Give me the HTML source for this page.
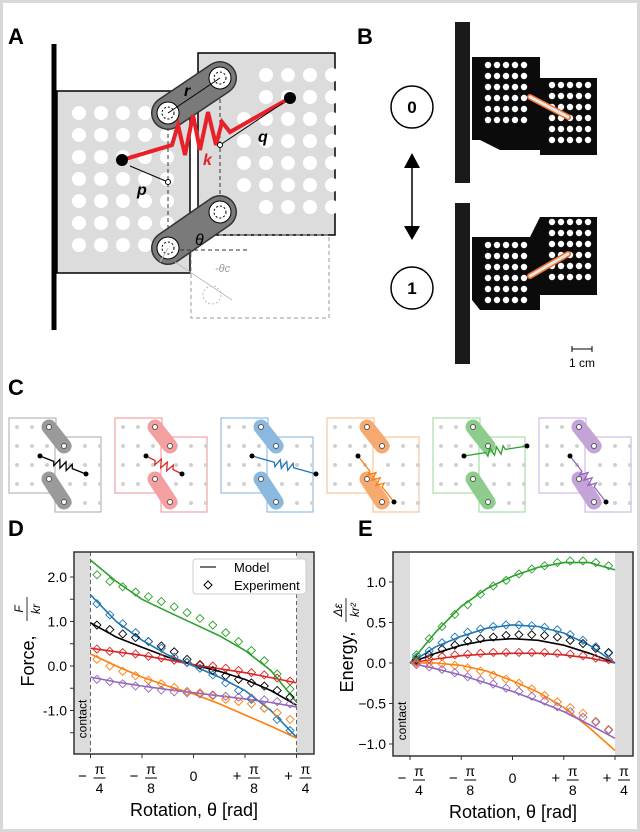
<!DOCTYPE html>
<html><head><meta charset="utf-8">
<style>
html,body{margin:0;padding:0;background:#fff;}
svg{display:block;font-family:"Liberation Sans","DejaVu Sans",sans-serif;}
</style></head>
<body>
<svg id="fig" width="640" height="832" viewBox="0 0 640 832">
  <rect x="1.5" y="1.5" width="637" height="829" fill="#fff" stroke="#d8d8d8" stroke-width="3"/>

  <!-- Panel A -->
  <g>
    <text x="8" y="44" font-size="22" font-weight="bold">A</text>
    <rect x="57" y="91" width="133" height="182" fill="#dcdcdc" stroke="#000" stroke-width="1.5"/>
    <rect x="198" y="53" width="137" height="182" fill="#dcdcdc" stroke="#000" stroke-width="1.5"/>
    <g id="holesA" fill="#fff"></g>
    <rect x="191" y="235" width="138" height="83" fill="none" stroke="#999" stroke-dasharray="4,3"/>
    <line x1="54" y1="44" x2="54" y2="330" stroke="#000" stroke-width="5"/>
    <line x1="168" y1="113" x2="168" y2="250" stroke="#333" stroke-dasharray="4,3"/>
    <line x1="220" y1="78" x2="220" y2="212" stroke="#333" stroke-dasharray="4,3"/>
    <line x1="168" y1="113" x2="220" y2="78" stroke="#333" stroke-width="34" stroke-linecap="round"/>
    <line x1="168" y1="113" x2="220" y2="78" stroke="#7a7a7a" stroke-width="31" stroke-linecap="round"/>
    <line x1="168" y1="248" x2="220" y2="212" stroke="#333" stroke-width="34" stroke-linecap="round"/>
    <line x1="168" y1="248" x2="220" y2="212" stroke="#7a7a7a" stroke-width="31" stroke-linecap="round"/>
    <g fill="#fff" stroke="#000" stroke-width="1">
      <circle cx="168" cy="113" r="11"/><circle cx="168" cy="113" r="6" fill="none" stroke-dasharray="2,2"/>
      <circle cx="220" cy="78" r="11"/><circle cx="220" cy="78" r="6" fill="none" stroke-dasharray="2,2"/>
      <circle cx="168" cy="248" r="11"/><circle cx="168" cy="248" r="6" fill="none" stroke-dasharray="2,2"/>
      <circle cx="220" cy="212" r="11"/><circle cx="220" cy="212" r="6" fill="none" stroke-dasharray="2,2"/>
    </g>
    <line x1="168" y1="113" x2="220" y2="78" stroke="#000"/>
    <line x1="180" y1="250" x2="248" y2="250" stroke="#333" stroke-dasharray="4,3"/>
    <path d="M168,248 L160,262 M175,262 L232,300" stroke="#bbb" fill="none"/>
    <circle cx="212" cy="295" r="9" fill="none" stroke="#bbb" stroke-dasharray="2,2"/>
    <polyline points="122,160 172,145 178,125 185,155 193,115 200,150 208,112 216,145 222,122 230,132 290,98" fill="none" stroke="#e8202a" stroke-width="4"/>
    <circle cx="122" cy="160" r="6" fill="#000"/>
    <circle cx="290" cy="98" r="6" fill="#000"/>
    <line x1="168" y1="182" x2="130" y2="166" stroke="#000"/>
    <line x1="220" y1="145" x2="283" y2="103" stroke="#000"/>
    <circle cx="168" cy="182" r="2.5" fill="#fff" stroke="#000"/>
    <circle cx="220" cy="145" r="2.5" fill="#fff" stroke="#000"/>
    <g font-weight="bold" font-style="italic" font-size="16">
      <text x="184" y="96">r</text>
      <text x="258" y="142">q</text>
      <text x="137" y="195">p</text>
      <text x="203" y="165" fill="#e8202a">k</text>
      <text x="195" y="245" font-weight="normal">θ</text>
    </g>
    <text x="215" y="272" font-size="11" font-style="italic" fill="#999">-θc</text>
  </g>

  <!-- Panel B -->
  <g>
    <text x="357" y="44" font-size="22" font-weight="bold">B</text>
    <g id="photo0">
      <rect x="455" y="22" width="15" height="161" fill="#1a1a1a"/>
      <path d="M472,57 L540,57 L540,78 L597,78 L597,155 L540,155 L540,150 L500,150 L480,140 L472,140 Z" fill="#0b0b0b"/>
    </g>
    <g id="photo1">
      <rect x="455" y="203" width="15" height="161" fill="#1a1a1a"/>
      <path d="M472,237 L530,237 L540,217 L597,217 L597,295 L540,295 L540,310 L480,310 L472,300 Z" fill="#0b0b0b"/>
    </g>
    <g id="holesB" fill="#fff"></g>
    <line x1="530" y1="97" x2="568" y2="117" stroke="#f07030" stroke-width="6" stroke-linecap="round"/>
    <line x1="530" y1="97" x2="568" y2="117" stroke="#e6e6e6" stroke-width="3" stroke-linecap="round"/>
    <line x1="530" y1="276" x2="568" y2="254" stroke="#f07030" stroke-width="6" stroke-linecap="round"/>
    <line x1="530" y1="276" x2="568" y2="254" stroke="#e6e6e6" stroke-width="3" stroke-linecap="round"/>
    <circle cx="412" cy="107" r="21" fill="#fff" stroke="#000" stroke-width="1.5"/>
    <text x="412" y="113" font-size="17" font-weight="bold" text-anchor="middle">0</text>
    <circle cx="412" cy="288" r="21" fill="#fff" stroke="#000" stroke-width="1.5"/>
    <text x="412" y="294" font-size="17" font-weight="bold" text-anchor="middle">1</text>
    <line x1="412" y1="165" x2="412" y2="228" stroke="#000" stroke-width="1.5"/>
    <path d="M404,168 L412,153 L420,168 Z M404,226 L412,240 L420,226 Z" fill="#000"/>
    <path d="M572,349 L592,349 M572,346 L572,352 M592,346 L592,352" stroke="#000"/>
    <text x="582" y="367" font-size="12" text-anchor="middle">1 cm</text>
  </g>

  <!-- Panel C -->
  <g>
    <text x="8" y="395" font-size="22" font-weight="bold">C</text>
    <g id="cgroup"></g>
  </g>

  <!-- Panel D -->
  <g id="panelD">
    <text x="8" y="536" font-size="22" font-weight="bold">D</text>
  </g>
  <!-- Panel E -->
  <g id="panelE">
    <text x="358" y="536" font-size="22" font-weight="bold">E</text>
  </g>
</svg>
<script>
// ---- chart data ----
const seriesColors = ["#000000","#d62728","#1f77b4","#ff7f0e","#2ca02c","#9467bd"];
const seriesNames = ["black","red","blue","orange","green","purple"];
// model sample rotations (fraction of pi/4)
const modelTheta = [-1,-0.75,-0.5,-0.25,0,0.25,0.5,0.75,1];
const expTheta = [-0.9375,-0.8125,-0.6875,-0.5625,-0.4375,-0.3125,-0.1875,-0.0625,0.0625,0.1875,0.3125,0.4375,0.5625,0.6875,0.8125,0.9375];
// Force model
const forceBlack = [0.97,0.65,0.42,0.2,0.03,-0.12,-0.3,-0.55,-0.88];
const forceRed = [0.4,0.32,0.24,0.14,0.03,-0.06,-0.15,-0.26,-0.38];
const forceBlue = [1.6,1.0,0.58,0.25,0,-0.25,-0.55,-1.0,-1.6];
const forceOrange = [0.27,0.0,-0.25,-0.45,-0.63,-0.85,-1.1,-1.35,-1.62];
const forceGreen = [2.38,1.9,1.5,1.22,0.95,0.68,0.35,-0.1,-0.81];
const forcePurple = [-0.25,-0.36,-0.45,-0.53,-0.6,-0.67,-0.74,-0.82,-0.92];
// Force experiment
const forceExpBlack = [0.92,0.82,0.72,0.64,0.55,0.45,0.32,0.15,0.02,-0.1,-0.22,-0.3,-0.38,-0.45,-0.55,-0.7];
const forceExpRed = [0.38,0.33,0.3,0.27,0.22,0.18,0.13,0.08,0.04,0.0,-0.05,-0.1,-0.15,-0.2,-0.27,-0.34];
const forceExpBlue = [1.4,1.15,0.95,0.75,0.55,0.4,0.2,0.08,-0.05,-0.2,-0.38,-0.55,-0.75,-0.95,-1.2,-1.45];
const forceExpOrange = [0.15,0.0,-0.12,-0.22,-0.32,-0.4,-0.48,-0.57,-0.6,-0.67,-0.75,-0.8,-0.85,-0.95,-1.05,-1.2];
const forceExpGreen = [2.05,1.9,1.78,1.66,1.56,1.45,1.33,1.2,1.07,0.92,0.75,0.55,0.35,0.12,-0.18,-0.52];
const forceExpPurple = [-0.3,-0.35,-0.4,-0.45,-0.5,-0.54,-0.58,-0.6,-0.63,-0.65,-0.68,-0.7,-0.72,-0.76,-0.8,-0.85];
// Energy model
const energyBlack = [0,0.12,0.22,0.28,0.3,0.28,0.22,0.12,0];
const energyRed = [0,0.05,0.09,0.11,0.12,0.12,0.1,0.06,0];
const energyBlue = [0,0.2,0.33,0.43,0.47,0.45,0.37,0.22,0];
const energyOrange = [0,0,-0.03,-0.1,-0.22,-0.36,-0.55,-0.8,-1.08];
const energyGreen = [0,0.38,0.7,0.92,1.07,1.18,1.24,1.24,1.15];
const energyPurple = [0,-0.07,-0.15,-0.25,-0.35,-0.47,-0.6,-0.76,-0.93];
// Energy experiment
const energyExpBlack = [0.04,0.1,0.17,0.22,0.27,0.3,0.32,0.34,0.35,0.35,0.34,0.32,0.28,0.24,0.18,0.13];
const energyExpRed = [0.02,0.05,0.08,0.1,0.11,0.12,0.13,0.13,0.13,0.13,0.13,0.12,0.11,0.09,0.06,0.04];
const energyExpBlue = [0.07,0.15,0.25,0.32,0.38,0.42,0.45,0.47,0.47,0.46,0.44,0.41,0.35,0.28,0.2,0.12];
const energyExpOrange = [0.0,0.0,-0.01,-0.03,-0.06,-0.1,-0.15,-0.2,-0.25,-0.32,-0.4,-0.48,-0.55,-0.62,-0.72,-0.82];
const energyExpGreen = [0.1,0.3,0.45,0.6,0.72,0.85,0.95,1.02,1.1,1.16,1.2,1.24,1.26,1.26,1.24,1.2];
const energyExpPurple = [-0.02,-0.05,-0.08,-0.12,-0.17,-0.21,-0.26,-0.31,-0.35,-0.41,-0.47,-0.54,-0.6,-0.67,-0.73,-0.83];
// ticks
const xTickValues = [-1,-0.5,0,0.5,1];
const xTickSigns = ["−","−","","+","+"];
const xTickDenoms = ["4","8","","8","4"];
const forceTickValues = [2,1.5,1,0.5,0,-0.5,-1,-1.5];
const forceTickLabels = ["2.0","","1.0","","0.0","","-1.0",""];
const energyTickValues = [1,0.5,0,-0.5,-1];
const energyTickLabels = ["1.0","0.5","0.0","−0.5","−1.0"];

const NS = "http://www.w3.org/2000/svg";
function mk(tag, attrs, parent){const e=document.createElementNS(NS,tag);for(const k in attrs)e.setAttribute(k,attrs[k]);parent.appendChild(e);return e;}

// ---- Panel A holes ----
const hA = document.getElementById('holesA');
for(let r=0;r<7;r++)for(let c=0;c<5;c++){
  const cx=79+c*22, cy=113+r*22;
  if(cx>150 && (cy<125||cy>235)) continue;
  const h=mk('circle',{cx:cx,cy:cy,r:7},hA);
  
  
}
for(let r=0;r<7;r++)for(let c=0;c<5;c++){
  const cx=244+c*22, cy=75+r*22;
  if(cx<250 && (cy<100||cy>190)) continue;
  const h=mk('circle',{cx:cx,cy:cy,r:7},hA);
  
  
}
// ---- Panel B holes ----
const hB=document.getElementById('holesB');
[[488,65,6,5],[552,85,6,5],[488,245,6,5],[552,222,6,5]].forEach(([x0,y0,rows,cols])=>{
  for(let r=0;r<rows;r++)for(let c=0;c<cols;c++){
    const h=mk('circle',{cx:x0+c*9,cy:y0+r*11,r:3.2},hB);
    
    
  }
});

// ---- Panel C ----
const cg=document.getElementById('cgroup');
const cFill=["#9a9a9a","#f4a0a0","#8ab8de","#f6aa70","#8dcc8d","#c4a4d8"];
const cEdge=["#aaa","#f09090","#7fb2dd","#f7b98a","#98d498","#c9aee0"];
const springEnds=[[[32,456],[78,474]],[[32,456],[68,474]],[[32,456],[96,474]],[[32,456],[68,502]],[[32,456],[95,446]],[[32,456],[68,502]]];
for(let i=0;i<6;i++){
  const ox=8+i*106;
  const g=mk('g',{transform:`translate(${ox},0)`},cg);
  
  
  mk('rect',{x:1,y:418,width:47,height:75,fill:'#fff',stroke:cEdge[i]},g);
  mk('rect',{x:47,y:437,width:46,height:75,fill:'#fff',stroke:cEdge[i]},g);
  for(let r=0;r<4;r++)for(let c=0;c<3;c++){mk('circle',{cx:9+c*15,cy:427+r*19,r:2,fill:'#d0d0d0'},g);mk('circle',{cx:62+c*15,cy:446+r*19,r:2,fill:'#d0d0d0'},g);}
  mk('line',{x1:41,y1:427,x2:56,y2:446,stroke:cFill[i],'stroke-width':15,'stroke-linecap':'round'},g);
  mk('line',{x1:41,y1:479,x2:56,y2:502,stroke:cFill[i],'stroke-width':15,'stroke-linecap':'round'},g);
  [[41,427],[56,446],[41,479],[56,502]].forEach(p=>mk('circle',{cx:p[0],cy:p[1],r:2.5,fill:'#fff',stroke:'#555'},g));
  const [a,b]=springEnds[i];
  const col=seriesColors[i];
  const mx=(a[0]+b[0])/2,my=(a[1]+b[1])/2, dx=b[0]-a[0], dy=b[1]-a[1], L=Math.hypot(dx,dy), ux=dx/L, uy=dy/L, nx=-uy, ny=ux;
  let pts=[a];
  pts.push([mx-ux*10,my-uy*10]);
  for(let k=0;k<6;k++){const t=-10+ (k+0.5)*20/6; const s=(k%2?-4:4); pts.push([mx+ux*t+nx*s,my+uy*t+ny*s]);}
  pts.push([mx+ux*10,my+uy*10]); pts.push(b);
  mk('polyline',{points:pts.map(p=>p.join(',')).join(' '),fill:'none',stroke:col,'stroke-width':1.3},g);
  mk('circle',{cx:a[0],cy:a[1],r:2.5,fill:'#000'},g);
  mk('circle',{cx:b[0],cy:b[1],r:2.5,fill:'#000'},g);
}

// ---- chart builder ----
function buildChart(panelId, box, xAxis, yAxis, models, exps, yTickVals, yTickLabs, ylabel, yfrac, legend){
  const P=document.getElementById(panelId);
  const g=mk('g',{},P);
  const bg=mk('rect',{x:box.x0,y:box.y0,width:box.x1-box.x0,height:box.y1-box.y0,fill:'#fff'},g);
   
  const cl=mk('rect',{x:box.x0,y:box.y0,width:xAxis(-1)-box.x0,height:box.y1-box.y0,fill:'#dcdcdc'},g);
   
  const cr=mk('rect',{x:xAxis(1),y:box.y0,width:box.x1-xAxis(1),height:box.y1-box.y0,fill:'#dcdcdc'},g);
   
  if(legend){
    mk('line',{x1:xAxis(-1),y1:box.y0,x2:xAxis(-1),y2:box.y1,stroke:'#666','stroke-dasharray':'4,3'},g);
    mk('line',{x1:xAxis(1),y1:box.y0,x2:xAxis(1),y2:box.y1,stroke:'#666','stroke-dasharray':'4,3'},g);
  }
  const ct=mk('text',{x:0,y:0,'font-size':12,transform:`translate(${xAxis(-1)-4},${box.y1-35}) rotate(-90)`,'text-anchor':'middle'},g);
  ct.textContent='contact';
   
  models.forEach((arr,i)=>{
    const d=arr.map((v,j)=>(j?'L':'M')+xAxis(modelTheta[j]).toFixed(1)+','+yAxis(v).toFixed(1)).join(' ');
    const p=mk('path',{d:d,fill:'none',stroke:seriesColors[i],'stroke-width':1.6},g);
    
    
  });
  exps.forEach((arr,i)=>{
    arr.forEach((v,j)=>{
      const cx=xAxis(expTheta[j]), cy=yAxis(v), s=4;
      const m=mk('path',{d:`M${cx},${cy-s} L${cx+s},${cy} L${cx},${cy+s} L${cx-s},${cy} Z`,fill:'none',stroke:seriesColors[i],'stroke-width':0.9},g);
      
      
    });
  });
  const fr=mk('rect',{x:box.x0,y:box.y0,width:box.x1-box.x0,height:box.y1-box.y0,fill:'none',stroke:'#333','stroke-width':1.5},g);
   
  yTickVals.forEach((v,i)=>{
    const y=yAxis(v);
    const t=mk('line',{x1:box.x0-4,y1:y,x2:box.x0,y2:y,stroke:'#333'},g);
     
    if(yTickLabs[i]){
      const tx=mk('text',{x:box.x0-7,y:y+5,'font-size':14,'text-anchor':'end'},g);
      tx.textContent=yTickLabs[i];
       
    }
  });
  xTickValues.forEach((v,i)=>{
    const x=xAxis(v);
    const t=mk('line',{x1:x,y1:box.y1,x2:x,y2:box.y1+4,stroke:'#333'},g);
     
    const lg=mk('g',{},g);
     
    if(!xTickDenoms[i]){
      const z=mk('text',{x:x,y:box.y1+27,'font-size':14,'text-anchor':'middle'},lg); z.textContent='0';
    } else {
      const s=mk('text',{x:x-8,y:box.y1+27,'font-size':15,'text-anchor':'middle'},lg); s.textContent=xTickSigns[i];
      const n=mk('text',{x:x+9,y:box.y1+20,'font-size':14,'text-anchor':'middle'},lg); n.textContent='π';
      mk('line',{x1:x+3,y1:box.y1+24,x2:x+15,y2:box.y1+24,stroke:'#000'},lg);
      const dd=mk('text',{x:x+9,y:box.y1+39,'font-size':14,'text-anchor':'middle'},lg); dd.textContent=xTickDenoms[i];
    }
  });
  const xl=mk('text',{x:(box.x0+box.x1)/2,y:box.y1+62,'font-size':18,'text-anchor':'middle'},g);
  xl.textContent='Rotation, θ [rad]';
   
  const yg=mk('g',{transform:`translate(${box.x0-40},${(box.y0+box.y1)/2-6}) rotate(-90)`},g);
   
  const yt=mk('text',{x:-14,y:0,'font-size':18,'text-anchor':'middle'},yg); yt.textContent=ylabel;
  const fn=mk('text',{x:38,y:-11,'font-size':12,'font-style':'italic','text-anchor':'middle'},yg); fn.textContent=yfrac[0];
  mk('line',{x1:26,y1:-7,x2:50,y2:-7,stroke:'#000','stroke-width':0.8},yg);
  const fd=mk('text',{x:38,y:6,'font-size':12,'font-style':'italic','text-anchor':'middle'},yg); fd.textContent=yfrac[1];
  if(legend){
    const lgd=mk('g',{},g);
     
    mk('rect',{x:193,y:559,width:113,height:35,rx:3,fill:'#fff',stroke:'#ccc'},lgd);
    mk('line',{x1:200,y1:567,x2:216,y2:567,stroke:'#444','stroke-width':1.5},lgd);
    const t1=mk('text',{x:234,y:572,'font-size':13},lgd); t1.textContent='Model';
    mk('path',{d:'M208,581 L212,585 L208,589 L204,585 Z',fill:'none',stroke:'#000'},lgd);
    const t2=mk('text',{x:234,y:590,'font-size':13},lgd); t2.textContent='Experiment';
  }
}
const xD=f=>193.5+f*103, yD=v=>666-v*44.5;
const xE=f=>512.5+f*102.5, yE=v=>663-v*81;
buildChart('panelD',{x0:74,y0:552,x1:314,y1:754},xD,yD,
  [forceBlack,forceRed,forceBlue,forceOrange,forceGreen,forcePurple],
  [forceExpBlack,forceExpRed,forceExpBlue,forceExpOrange,forceExpGreen,forceExpPurple],
  forceTickValues,forceTickLabels,'Force,',['F','kr'],true);
buildChart('panelE',{x0:393,y0:552,x1:633,y1:756},xE,yE,
  [energyBlack,energyRed,energyBlue,energyOrange,energyGreen,energyPurple],
  [energyExpBlack,energyExpRed,energyExpBlue,energyExpOrange,energyExpGreen,energyExpPurple],
  energyTickValues,energyTickLabels,'Energy,',['Δε','kr²'],false);
</script>
</body></html>
